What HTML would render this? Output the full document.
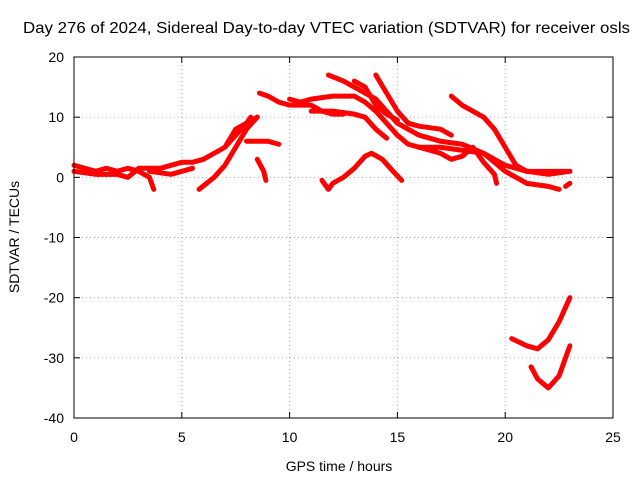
<!DOCTYPE html>
<html><head><meta charset="utf-8"><style>
body{margin:0;background:#fff}
svg{display:block;font-family:"Liberation Sans",sans-serif}
</style></head><body>
<svg id="chart" width="640" height="480">
<text x="326.5" y="33" font-size="15.5" text-anchor="middle" textLength="607" lengthAdjust="spacingAndGlyphs">Day 276 of 2024, Sidereal Day-to-day VTEC variation (SDTVAR) for receiver osls</text>
<text x="339" y="471" font-size="14" text-anchor="middle">GPS time / hours</text>
<text transform="translate(19,237) rotate(-90)" font-size="14" text-anchor="middle">SDTVAR / TECUs</text>
<g id="grid"></g><g id="series"></g><g id="axes"></g>
</svg>
<script>
const xTicks=[0,5,10,15,20,25];
const yTicks=[20,10,0,-10,-20,-30,-40];
const track1=[[0,2],[0.5,1.5],[1,1],[1.5,1.5],[2,1],[2.5,1.5],[3,1],[3.5,0],[3.7,-2]];
const track2=[[0,1],[1,0.5],[2,0.5],[2.5,0],[3,1.5],[4,1.5],[5,2.5],[5.5,2.5],[6,3],[7,5],[7.5,7],[8,9],[8.5,10]];
const track3=[[3.5,1],[4.5,0.5],[5,1],[5.5,1.5]];
const track4=[[5.8,-2],[6.5,0],[7,2],[7.5,5],[8,8],[8.5,10]];
const track5=[[7,5],[7.5,8],[8,9],[8.2,10]];
const track6=[[8,6],[8.5,6],[9,6],[9.5,5.5]];
const track7=[[8.5,3],[8.8,1],[8.9,-0.5]];
const track8=[[8.6,14],[9,13.5],[9.5,12.5],[10,12],[10.5,12],[11,12],[11.5,11],[12,10.5],[12.5,10.5]];
const track9=[[10,13],[10.5,12.5],[11,13],[12,13.5],[13,13.5],[13.5,12.5],[14,11],[14.5,9],[15,7],[15.5,5.5],[16,5],[17,5],[18,4.5],[19,4],[20,2],[21,1],[22,0.5],[23,1]];
const track10=[[11.5,-0.5],[11.8,-2],[12,-1],[12.5,0],[13,1.5],[13.5,3.5],[13.8,4],[14.3,3],[14.8,1],[15.2,-0.5]];
const track11=[[11.8,17],[12.5,16],[13,15],[13.5,14],[14,13],[14.5,11],[15,9],[15.5,8],[16,7],[17,6],[18,5.5],[19,4],[20,1],[21,-1],[22,-1.5],[22.5,-2]];
const track12=[[14,17],[14.5,14],[15,11],[15.5,9],[16,8.5],[17,8],[17.5,7]];
const track13=[[17.5,13.5],[18,12],[18.5,11],[19,10],[19.5,8],[20,5],[20.5,2],[21,1],[22,1],[23,1]];
const track14=[[13,16],[13.5,15],[14,12],[14.5,10.5],[15,9.5]];
const track15=[[16,5],[17,4],[17.5,3],[18,3.5],[18.5,5],[19,2.5],[19.5,0.5],[19.6,-1]];
const track16=[[22.8,-1.5],[23,-1]];
const track17=[[20.3,-26.8],[21,-28],[21.5,-28.5],[22,-27],[22.5,-24],[23,-20]];
const track18=[[21.2,-31.5],[21.5,-33.5],[22,-35],[22.5,-33],[23,-28]];
const track19=[[11,11],[12,11],[13,10.5],[13.5,10],[14,8],[14.5,6.5]];
const tracks=[track1,track2,track3,track4,track5,track6,track7,track8,track9,track10,track11,track12,track13,track14,track15,track16,track17,track18,track19];

const L=74,R=613,T=57,B=418;
const X=t=>L+(t-0)/25*(R-L);
const Y=v=>T+(20-v)/60*(B-T);
const NS="http://www.w3.org/2000/svg";
function mk(tag,attrs,parent){const e=document.createElementNS(NS,tag);for(const k in attrs)e.setAttribute(k,attrs[k]);parent.appendChild(e);return e;}
const grid=document.getElementById('grid'),axes=document.getElementById('axes'),ser=document.getElementById('series');
xTicks.forEach(t=>{
  if(t>0&&t<25){const g=mk('line',{x1:X(t),x2:X(t),y1:T,y2:B,stroke:'#aaa','stroke-dasharray':'1,3'},grid);
  
  }
  mk('line',{x1:X(t),x2:X(t),y1:B,y2:B-6,stroke:'#000'},axes);
  mk('line',{x1:X(t),x2:X(t),y1:T,y2:T+6,stroke:'#000'},axes);
  const lb=mk('text',{x:X(t),y:B+24,'font-size':14,'text-anchor':'middle'},axes);lb.textContent=t;
  
  
});
yTicks.forEach(v=>{
  if(v<20&&v>-40){const g=mk('line',{x1:L,x2:R,y1:Y(v),y2:Y(v),stroke:'#aaa','stroke-dasharray':'1,3'},grid);
  
  }
  mk('line',{x1:L,x2:L+6,y1:Y(v),y2:Y(v),stroke:'#000'},axes);
  mk('line',{x1:R,x2:R-6,y1:Y(v),y2:Y(v),stroke:'#000'},axes);
  const lb=mk('text',{x:L-10,y:Y(v)+5,'font-size':14,'text-anchor':'end'},axes);lb.textContent=v;
  
  
});
const fr=mk('rect',{x:L,y:T,width:R-L,height:B-T,fill:'none',stroke:'#000'},axes);


tracks.forEach((tr,i)=>{
  const p=mk('polyline',{points:tr.map(d=>X(d[0])+','+Y(d[1])).join(' '),fill:'none',stroke:'#f00','stroke-width':5,'stroke-linejoin':'round','stroke-linecap':'round'},ser);
  
  
});
</script>
</body></html>
